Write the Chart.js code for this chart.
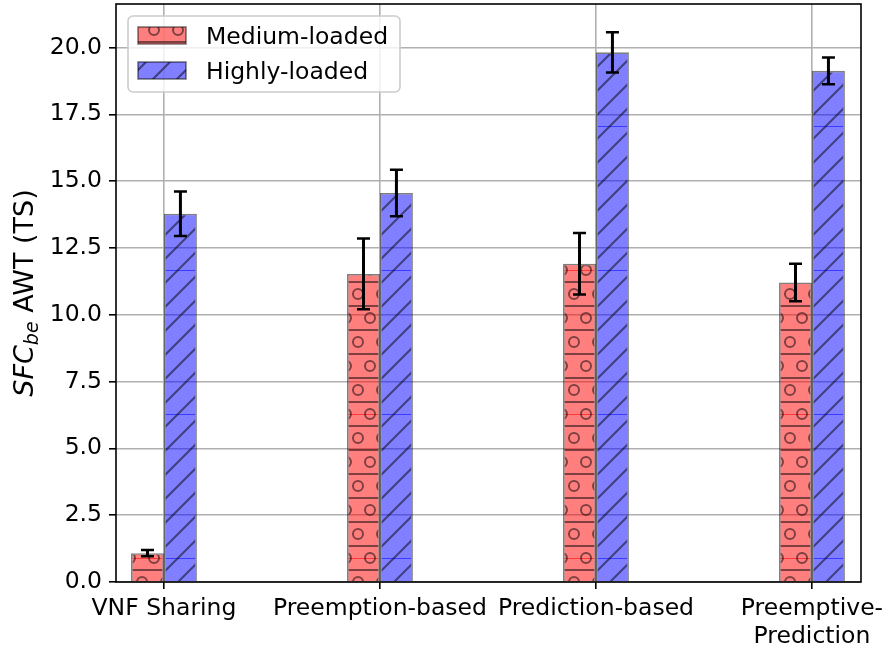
<!DOCTYPE html>
<html>
<head>
<meta charset="utf-8">
<script src="https://cdn.jsdelivr.net/npm/chart.js@4.4.1/dist/chart.umd.min.js"></script>
<style>
  html, body { margin: 0; padding: 0; background: #ffffff; }
  #wrap { width: 888px; height: 647px; }
</style>
</head>
<body>
<div id="wrap"><canvas id="c" width="888" height="647"></canvas></div>
<script>
// Approaches compared on the x axis
const categories = ['VNF Sharing', 'Preemption-based', 'Prediction-based', ['Preemptive-', 'Prediction']];
// Series labels
const seriesNames = ['Medium-loaded', 'Highly-loaded'];
// Average waiting time of best-effort SFCs (time slots) and error bar half-widths
const mediumValues = [1.08, 11.53, 11.91, 11.21];
const mediumErrors = [0.12, 1.32, 1.15, 0.70];
const highValues = [13.78, 14.56, 19.82, 19.13];
const highErrors = [0.83, 0.87, 0.75, 0.50];
// y axis ticks
const yTickStep = 2.5;
const yMax = 21.63;

const FONT = '"DejaVu Sans", "Liberation Sans", sans-serif';

// Hatched fills: semi-transparent face with a 24px hatch grid inside a 144px tile
function makeHatch(kind) {
  const T = 144, s = 24;
  const cv = document.createElement('canvas');
  cv.width = T; cv.height = T;
  const g = cv.getContext('2d');
  g.fillStyle = kind === 'circles' ? 'rgba(255,0,0,0.5)' : 'rgba(0,0,255,0.5)';
  g.fillRect(0, 0, T, T);
  // tile seam
  g.fillStyle = kind === 'circles' ? 'rgba(255,0,0,0.55)' : 'rgba(0,0,255,0.55)';
  g.fillRect(0, 0, T, 1);
  g.strokeStyle = 'rgba(0,0,0,0.5)';
  g.lineWidth = 2;
  g.beginPath();
  if (kind === 'circles') {
    for (let i = 0; i * s <= T + s; i++) {
      const y = 12 + i * s;
      g.moveTo(-5, y); g.lineTo(T + 5, y);
    }
    for (let i = -1; i <= 7; i++) {
      const y = i * s;
      const shift = (((i % 2) + 2) % 2) ? s / 2 : 0;
      for (let j = -1; j <= 7; j++) {
        const x = j * s + shift;
        g.moveTo(x + 5, y);
        g.arc(x, y, 5, 0, Math.PI * 2);
      }
    }
  } else {
    for (let k = -2; k <= 14; k++) {
      const c = k * s;
      g.moveTo(c + 20, -20); g.lineTo(c - T - 20, T + 20);
    }
  }
  g.stroke();
  const pat = g.createPattern(cv, 'repeat');
  pat.setTransform(new DOMMatrix().translate(10, 126));
  return pat;
}

const redFill = makeHatch('circles');
const blueFill = makeHatch('diag');

function points(values) {
  return values.map((v, i) => ({ x: i, y: v }));
}

// Error bars on top of every bar
const errorBars = {
  id: 'errorBars',
  afterDatasetsDraw(chart) {
    const ctx = chart.ctx;
    const ys = chart.scales.y;
    ctx.save();
    ctx.strokeStyle = '#000000';
    chart.data.datasets.forEach((ds, di) => {
      const meta = chart.getDatasetMeta(di);
      meta.data.forEach((bar, i) => {
        const v = ds.data[i].y, e = ds.errors[i];
        const yt = ys.getPixelForValue(v + e);
        const yb = ys.getPixelForValue(v - e);
        ctx.lineWidth = 3;
        ctx.beginPath();
        ctx.moveTo(bar.x, yt); ctx.lineTo(bar.x, yb);
        ctx.stroke();
        ctx.lineWidth = 2.5;
        ctx.beginPath();
        ctx.moveTo(bar.x - 6.5, yt); ctx.lineTo(bar.x + 6.5, yt);
        ctx.moveTo(bar.x - 6.5, yb); ctx.lineTo(bar.x + 6.5, yb);
        ctx.stroke();
      });
    });
    ctx.restore();
  }
};

// Frame around the plotting area, legend box and y title
const decorations = {
  id: 'decorations',
  afterDatasetsDraw(chart) {
    const ctx = chart.ctx;
    const a = chart.chartArea;
    ctx.save();
    ctx.strokeStyle = '#000000';
    ctx.lineWidth = 1.6;
    ctx.strokeRect(a.left, a.top, a.right - a.left, a.bottom - a.top);

    // legend
    const lx = a.left + 12, ly = a.top + 12, lw = 272, lh = 76, r = 5;
    ctx.beginPath();
    ctx.moveTo(lx + r, ly);
    ctx.arcTo(lx + lw, ly, lx + lw, ly + lh, r);
    ctx.arcTo(lx + lw, ly + lh, lx, ly + lh, r);
    ctx.arcTo(lx, ly + lh, lx, ly, r);
    ctx.arcTo(lx, ly, lx + lw, ly, r);
    ctx.closePath();
    ctx.fillStyle = 'rgba(255,255,255,0.8)';
    ctx.fill();
    ctx.strokeStyle = '#cccccc';
    ctx.lineWidth = 1.6;
    ctx.stroke();
    ctx.font = '23.5px ' + FONT;
    ctx.textBaseline = 'alphabetic';
    ctx.textAlign = 'left';
    chart.data.datasets.forEach((ds, i) => {
      const hy = ly + 11 + i * 35;
      ctx.fillStyle = ds.backgroundColor;
      ctx.fillRect(lx + 10, hy, 48, 17);
      ctx.strokeStyle = 'rgba(0,0,0,0.5)';
      ctx.lineWidth = 1.6;
      ctx.strokeRect(lx + 10, hy, 48, 17);
      ctx.fillStyle = '#000000';
      ctx.fillText(ds.label, lx + 78, hy + 17);
    });
    ctx.restore();
  },
  afterDraw(chart) {
    const ctx = chart.ctx;
    const a = chart.chartArea;
    const big = 27, small = 19;
    const parts = [
      { t: 'SFC', f: 'italic ' + big + 'px ' + FONT, dy: 0 },
      { t: 'be', f: 'italic ' + small + 'px ' + FONT, dy: 5 },
      { t: ' AWT (TS)', f: big + 'px ' + FONT, dy: 0 }
    ];
    ctx.save();
    let total = 0;
    parts.forEach(p => { ctx.font = p.f; p.w = ctx.measureText(p.t).width; total += p.w; });
    ctx.translate(33, (a.top + a.bottom) / 2);
    ctx.rotate(-Math.PI / 2);
    ctx.fillStyle = '#000000';
    ctx.textBaseline = 'alphabetic';
    ctx.textAlign = 'left';
    let x = -total / 2;
    parts.forEach(p => {
      ctx.font = p.f;
      ctx.fillText(p.t, x, p.dy);
      x += p.w;
    });
    ctx.restore();
  }
};

const chart = new Chart(document.getElementById('c'), {
  type: 'bar',
  data: {
    datasets: [
      {
        label: seriesNames[0],
        data: points(mediumValues),
        errors: mediumErrors,
        backgroundColor: redFill,
        borderColor: 'rgba(0,0,0,0.5)',
        borderWidth: 1.6,
        categoryPercentage: 0.305,
        barPercentage: 1.0
      },
      {
        label: seriesNames[1],
        data: points(highValues),
        errors: highErrors,
        backgroundColor: blueFill,
        borderColor: 'rgba(0,0,0,0.5)',
        borderWidth: 1.6,
        categoryPercentage: 0.305,
        barPercentage: 1.0
      }
    ]
  },
  options: {
    responsive: false,
    animation: false,
    devicePixelRatio: 1,
    layout: { autoPadding: false, padding: { top: 4, right: 27, bottom: 0, left: 0 } },
    plugins: { legend: { display: false }, tooltip: { enabled: false } },
    scales: {
      x: {
        type: 'linear',
        min: -0.222,
        max: 3.227,
        offset: false,
        grid: { offset: false, color: '#b0b0b0', lineWidth: 1.6, tickColor: '#000000', tickWidth: 1.6, tickLength: 7, drawTicks: true },
        border: { display: false },
        ticks: {
          stepSize: 1,
          includeBounds: false,
          autoSkip: false,
          maxRotation: 0,
          minRotation: 0,
          padding: 6,
          color: '#000000',
          font: { family: FONT, size: 23.5 },
          callback: (v) => (Number.isInteger(v) && categories[v] !== undefined) ? categories[v] : ''
        },
        afterFit: (s) => { s.height = 65; s.paddingLeft = 0; s.paddingRight = 0; }
      },
      y: {
        min: 0,
        max: yMax,
        grid: { color: '#b0b0b0', lineWidth: 1.6, tickColor: '#000000', tickWidth: 1.6, tickLength: 7, drawTicks: true },
        border: { display: false },
        ticks: {
          stepSize: yTickStep,
          includeBounds: false,
          padding: 7,
          color: '#000000',
          font: { family: FONT, size: 23.5 },
          callback: (v) => v.toFixed(1)
        },
        afterFit: (s) => { s.width = 116; s.paddingTop = 0; s.paddingBottom = 0; }
      }
    }
  },
  plugins: [errorBars, decorations]
});
</script>
</body>
</html>
